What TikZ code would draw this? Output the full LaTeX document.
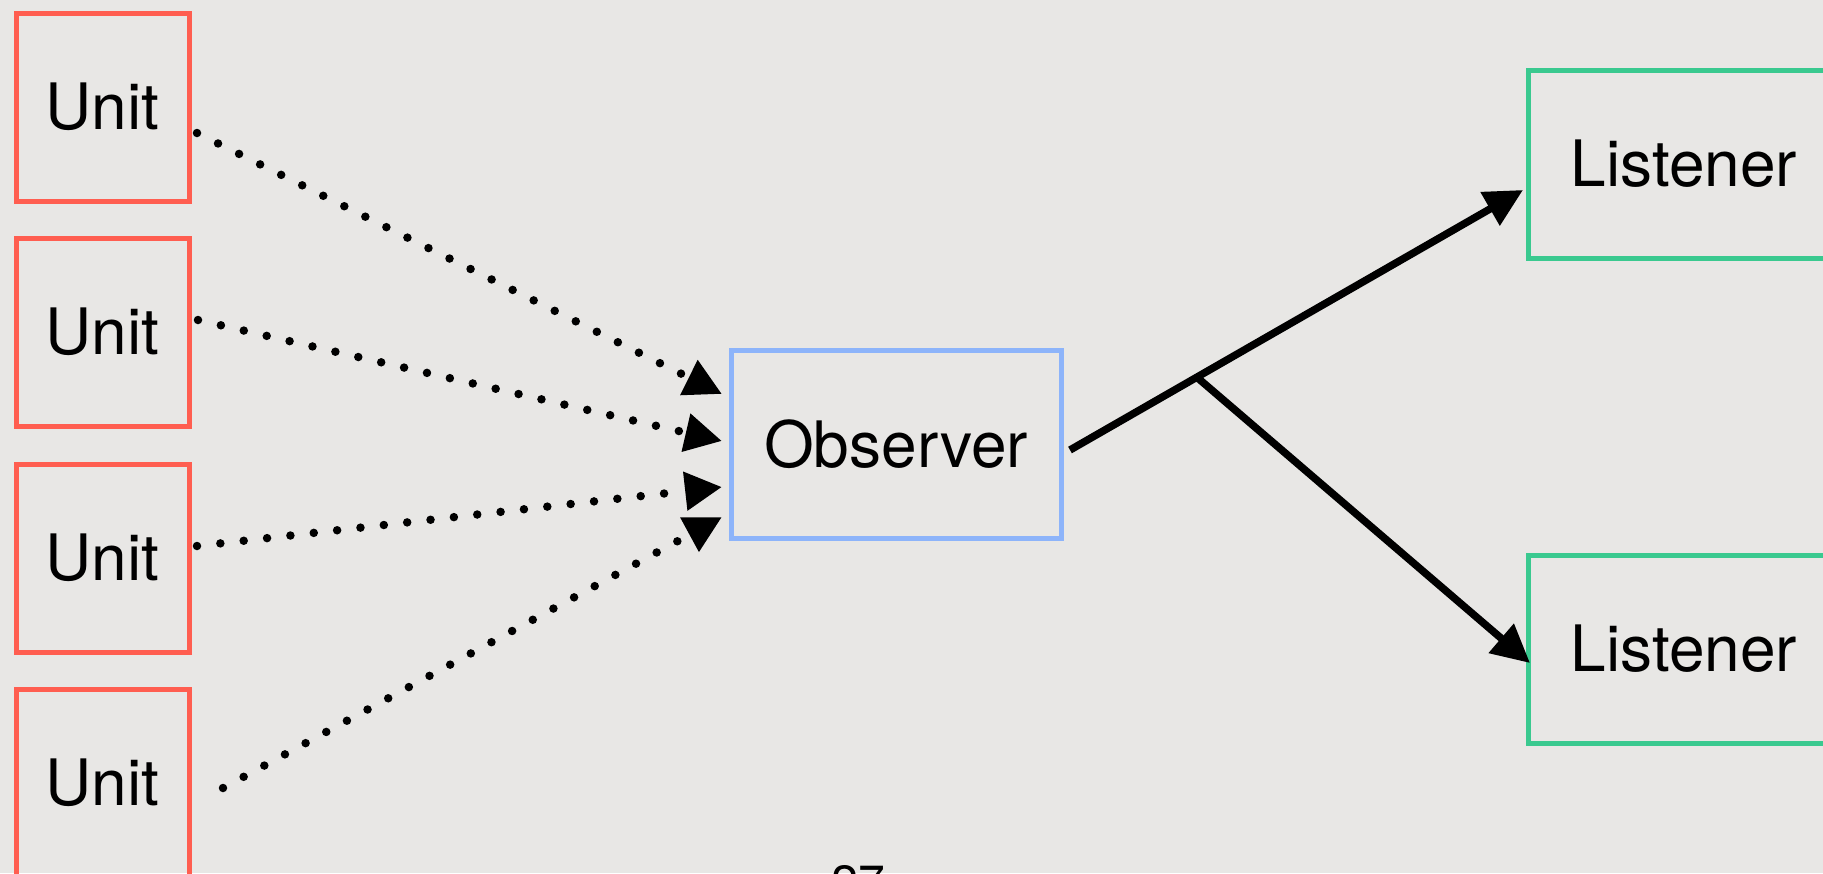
\documentclass[tikz,border=0pt]{standalone}
\usepackage{fontspec}
\setmainfont{TeX Gyre Heros}
\usetikzlibrary{arrows.meta,calc}
\definecolor{bgcol}{RGB}{232,231,229}
\definecolor{unitred}{RGB}{255,94,80}
\definecolor{obsblue}{RGB}{141,180,250}
\definecolor{lisgreen}{RGB}{58,201,143}
\tikzset{
	box/.style={draw,line width=5pt,inner sep=0pt,outer sep=0pt,font=\fontsize{64}{70}\selectfont},
	unit/.style={box,draw=unitred,minimum width=173pt,minimum height=188pt},
	observer/.style={box,draw=obsblue,minimum width=330pt,minimum height=188pt},
	listener/.style={box,draw=lisgreen,minimum width=312pt,minimum height=188pt},
	dotline/.style={line width=8.5pt,line cap=round,dash pattern=on 0pt off 23.5pt,-{Triangle[length=37pt,width=37pt]}},
	solidline/.style={line width=7.5pt,-{Triangle[length=38pt,width=37pt]}}
}
\begin{document}
\begin{tikzpicture}[x=1pt,y=-1pt]
				\fill[bgcol] (0,0) rectangle (1823,873);
				\useasboundingbox (0,0) rectangle (1823,873);
				\node[unit] (u1) at (102.5,107) {Unit};
				\node[unit] (u2) at (102.5,332) {Unit};
				\node[unit] (u3) at (102.5,558) {Unit};
				\node[unit] (u4) at (102.5,783) {Unit};
				\node[observer] (obs) at (896,444) {Observer};
				\node[listener] (l1) at (1684,164) {Listener};
				\node[listener] (l2) at (1684,649) {Listener};
				\node[font=\fontsize{48}{50}\selectfont,anchor=base] (pagenum) at (858,899) {27};
				\draw[dotline] ($(u1.east)+(8,26)$) -- ($(obs.west)+(-9,-50)$);
				\draw[dotline] ($(u2.east)+(9,-12)$) -- ($(obs.west)+(-9,-3)$);
				\draw[dotline] ($(u3.east)+(8,-12)$) -- ($(obs.west)+(-9,43)$);
				\draw[dotline] ($(u4.east)+(34,5)$) -- ($(obs.west)+(-9,73)$);
				\coordinate (out) at ($(obs.east)+(9,6)$);
				\coordinate (in1) at ($(l1.west)+(-5,26)$);
				\coordinate (in2) at ($(l2.west)+(2,14)$);
				\coordinate (fork) at ($(out)!0.28!(in1)$);
				\draw[solidline] (out) -- (in1);
				\draw[solidline] (fork) -- (in2);
\end{tikzpicture}
\end{document}
